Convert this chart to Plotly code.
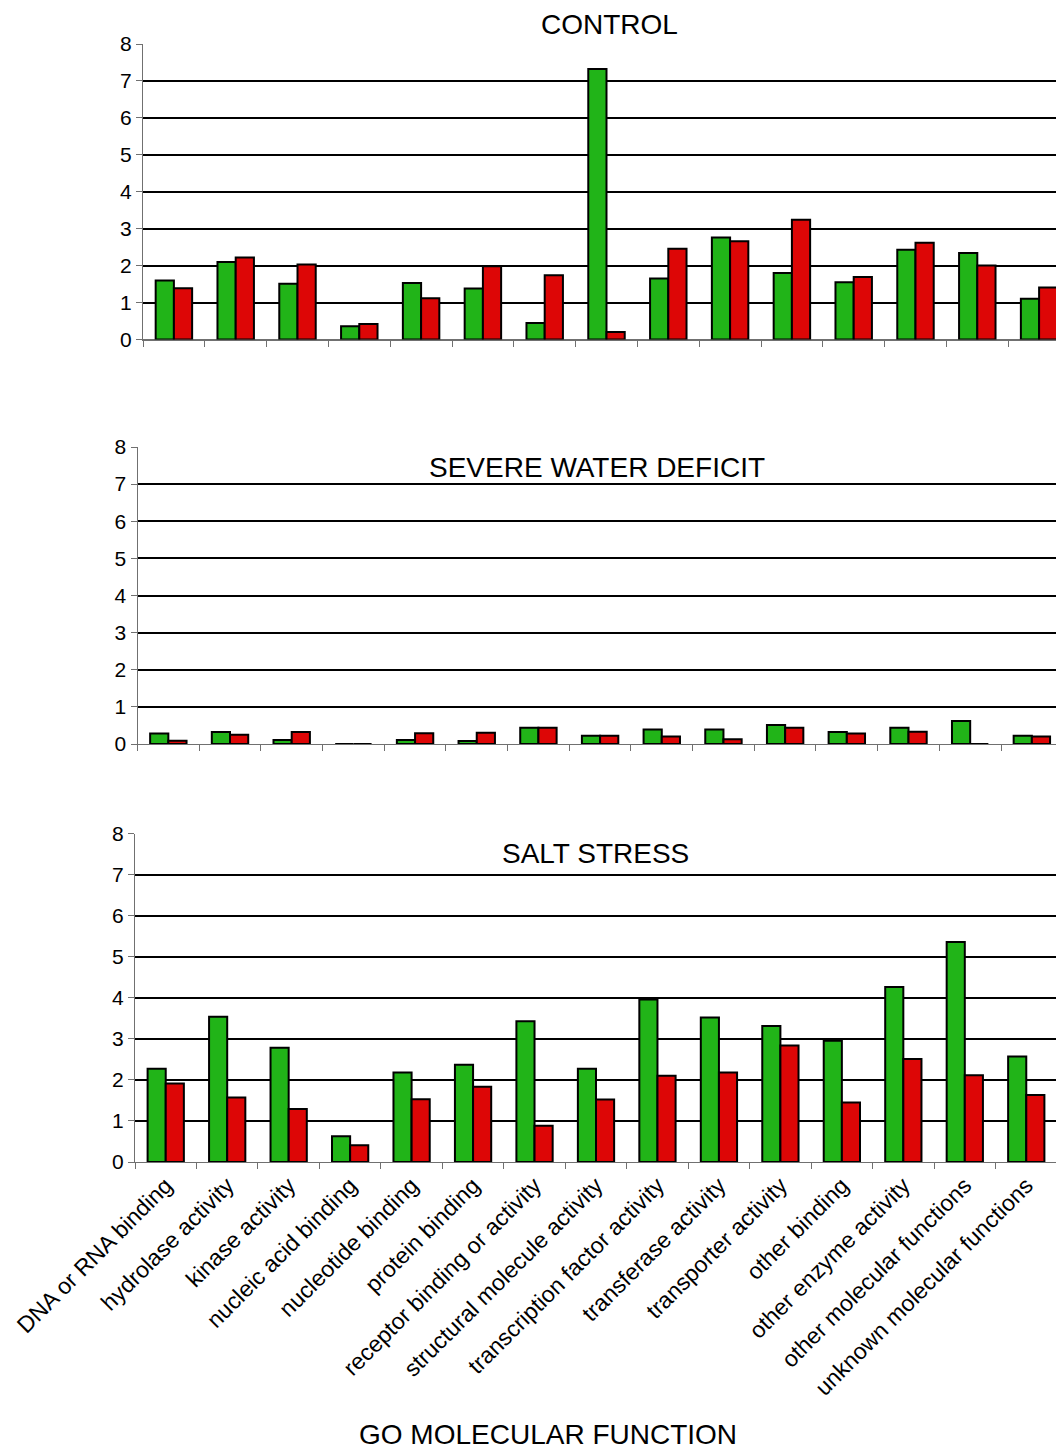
import plotly.graph_objects as go

categories = [
    "DNA or RNA binding", "hydrolase activity", "kinase activity",
    "nucleic acid binding", "nucleotide binding", "protein binding",
    "receptor binding or activity", "structural molecule activity",
    "transcription factor activity", "transferase activity",
    "transporter activity", "other binding", "other enzyme activity",
    "other molecular functions", "unknown molecular functions",
]

control_green = [1.60, 2.10, 1.51, 0.36, 1.53, 1.38, 0.45, 7.32, 1.65, 2.76, 1.80, 1.55, 2.43, 2.34, 1.10]
control_red = [1.39, 2.22, 2.03, 0.42, 1.12, 1.98, 1.74, 0.20, 2.46, 2.66, 3.24, 1.69, 2.62, 2.00, 1.41]

water_green = [0.28, 0.32, 0.11, 0.0, 0.11, 0.08, 0.44, 0.22, 0.39, 0.39, 0.51, 0.32, 0.44, 0.62, 0.22]
water_red = [0.09, 0.25, 0.32, 0.0, 0.29, 0.30, 0.44, 0.22, 0.20, 0.13, 0.44, 0.28, 0.33, 0.0, 0.20]

salt_green = [2.27, 3.54, 2.78, 0.63, 2.18, 2.37, 3.43, 2.27, 3.96, 3.52, 3.31, 2.95, 4.26, 5.36, 2.57]
salt_red = [1.91, 1.57, 1.29, 0.41, 1.53, 1.83, 0.88, 1.52, 2.10, 2.18, 2.84, 1.45, 2.51, 2.11, 1.63]

y_ticks = [0, 1, 2, 3, 4, 5, 6, 7, 8]

panel_titles = ["CONTROL", "SEVERE WATER DEFICIT", "SALT STRESS"]
x_title = "GO MOLECULAR FUNCTION"

OFF = 8  # page body margin offset
W, H = 1064 - OFF, 1452 - OFF
GREEN = "#21B418"
RED = "#DD0606"
FONT = "Liberation Sans, Arial, Helvetica, sans-serif"

# panel geometry in page pixels: (x_left, x_right, y_top(8), y_bottom(0), range_max)
panels = [
    (143, 1064, 44, 339.5, 14.5 - 6 / 61.8),
    (137.5, 1062.7, 447, 744, 14.5),
    (135, 1057, 833.5, 1162, 14.5),
]
series = [
    (control_green, control_red),
    (water_green, water_red),
    (salt_green, salt_red),
]


def px(x):
    return min(1.0, (x - OFF) / W)


def py(y):
    return 1 - (y - OFF) / H


fig = go.Figure()
for i, ((g, r), (xl, xr, yt, yb, rmax)) in enumerate(zip(series, panels)):
    n = i + 1
    xa = "x" if n == 1 else f"x{n}"
    ya = "y" if n == 1 else f"y{n}"
    for vals, col in ((g, GREEN), (r, RED)):
        fig.add_trace(go.Bar(
            x=categories, y=vals, xaxis=xa, yaxis=ya,
            marker=dict(color=col, line=dict(color="black", width=2)),
            showlegend=False, hoverinfo="skip",
        ))
    xkey = "xaxis" if n == 1 else f"xaxis{n}"
    ykey = "yaxis" if n == 1 else f"yaxis{n}"
    fig.layout[xkey] = dict(
        domain=[px(xl), px(xr)], anchor=ya, type="category",
        range=[-0.5, rmax], tickson="boundaries", ticks="outside",
        ticklen=6, tickcolor="#707070", tickwidth=1,
        showline=True, linecolor="#707070", linewidth=1,
        showgrid=False, showticklabels=(n == 3), tickangle=-45,
        tickfont=dict(family=FONT, size=23, color="black"),
        automargin=False, fixedrange=True,
    )
    fig.layout[ykey] = dict(
        domain=[py(yb), py(yt)], anchor=xa,
        range=[0, 8], tickvals=y_ticks, ticks="outside", ticklen=6,
        tickcolor="#707070", showline=True, linecolor="#707070", linewidth=1,
        showgrid=True, gridcolor="black", gridwidth=2,
        zeroline=True, zerolinecolor="#707070", zerolinewidth=1,
        tickfont=dict(family=FONT, size=21, color="black"),
        automargin=False, fixedrange=True,
    )

title_pos = [(609, 24), (597, 467), (595, 854)]
for t, (tx, ty) in zip(panel_titles, title_pos):
    fig.add_annotation(text=t, x=px(tx), y=py(ty), xref="paper", yref="paper",
                       showarrow=False, xanchor="center", yanchor="middle",
                       font=dict(family=FONT, size=28, color="black"))
fig.add_annotation(text=x_title, x=px(548), y=py(1434), xref="paper", yref="paper",
                   showarrow=False, xanchor="center", yanchor="middle",
                   font=dict(family=FONT, size=28, color="black"))

fig.update_layout(
    width=W, height=H, margin=dict(l=0, r=0, t=0, b=0, autoexpand=False),
    paper_bgcolor="white", plot_bgcolor="white",
    barmode="group", bargap=0.41, bargroupgap=0,
    showlegend=False,
)

fig.write_html("out.html")
